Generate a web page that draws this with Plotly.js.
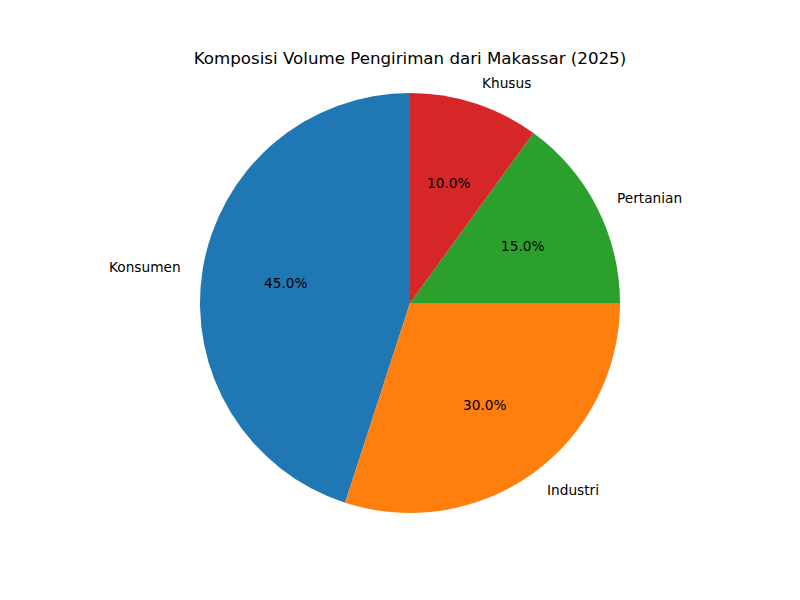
<!DOCTYPE html>
<html>
<head>
<meta charset="utf-8">
<script src="https://cdn.plot.ly/plotly-3.0.1.min.js"></script>
<style>
  body { margin: 0; background: #fff; }
  #chart { width: 800px; height: 600px; }
</style>
</head>
<body>
<div id="chart"></div>
<script>
var categories = ['Konsumen', 'Industri', 'Pertanian', 'Khusus'];
var shares = [45, 30, 15, 10];
var colors = ['#1f77b4', '#ff7f0e', '#2ca02c', '#d62728'];

// matplotlib style: first slice starts at 12 o'clock and runs counterclockwise
var total = shares.reduce(function (a, b) { return a + b; }, 0);
var startRotation = 360 - shares[0] / total * 360;

var pieDomain = {x: [0.25, 0.775], y: [0.145, 0.845]};
var W = 800, H = 600;
var cx = (pieDomain.x[0] + pieDomain.x[1]) / 2;
var cy = (pieDomain.y[0] + pieDomain.y[1]) / 2;
var rx = (pieDomain.x[1] - pieDomain.x[0]) / 2;
var ry = (pieDomain.y[1] - pieDomain.y[0]) / 2;

// label text at 1.1 r and percent text at 0.6 r, like matplotlib's autopct
var annotations = [];
var cum = 0;
shares.forEach(function (v, i) {
  var mid = (90 + (cum + v / 2) / total * 360) * Math.PI / 180;
  cum += v;
  var c = Math.cos(mid), s = Math.sin(mid);
  annotations.push({
    xref: 'paper', yref: 'paper',
    x: cx + 1.1 * rx * c, y: cy + 1.1 * ry * s,
    xanchor: c > 0 ? 'left' : 'right', yanchor: 'middle',
    borderpad: 0,
    text: categories[i], showarrow: false,
    font: {family: 'DejaVu Sans', size: 13.7, color: '#000'}
  });
  annotations.push({
    xref: 'paper', yref: 'paper',
    x: cx + 0.6 * rx * c, y: cy + 0.6 * ry * s,
    xanchor: 'center', yanchor: 'middle',
    borderpad: 0,
    text: (v / total * 100).toFixed(1) + '%', showarrow: false,
    font: {family: 'DejaVu Sans', size: 13.7, color: '#000'}
  });
});

var slices = {
  type: 'pie',
  values: shares,
  labels: categories,
  sort: false,
  direction: 'counterclockwise',
  rotation: startRotation,
  domain: pieDomain,
  marker: {colors: colors, line: {width: 0}},
  textinfo: 'none',
  hoverinfo: 'label+percent'
};

var layout = {
  width: W,
  height: H,
  margin: {l: 0, r: 0, t: 0, b: 0},
  paper_bgcolor: '#fff',
  showlegend: false,
  annotations: annotations,
  title: {
    text: 'Komposisi Volume Pengiriman dari Makassar (2025)',
    font: {family: 'DejaVu Sans', size: 16.67, color: '#000'},
    x: 0.5125,
    xanchor: 'center',
    y: 1 - 58 / 600,
    yanchor: 'middle'
  }
};

Plotly.newPlot('chart', [slices], layout, {displayModeBar: false});
</script>
</body>
</html>
